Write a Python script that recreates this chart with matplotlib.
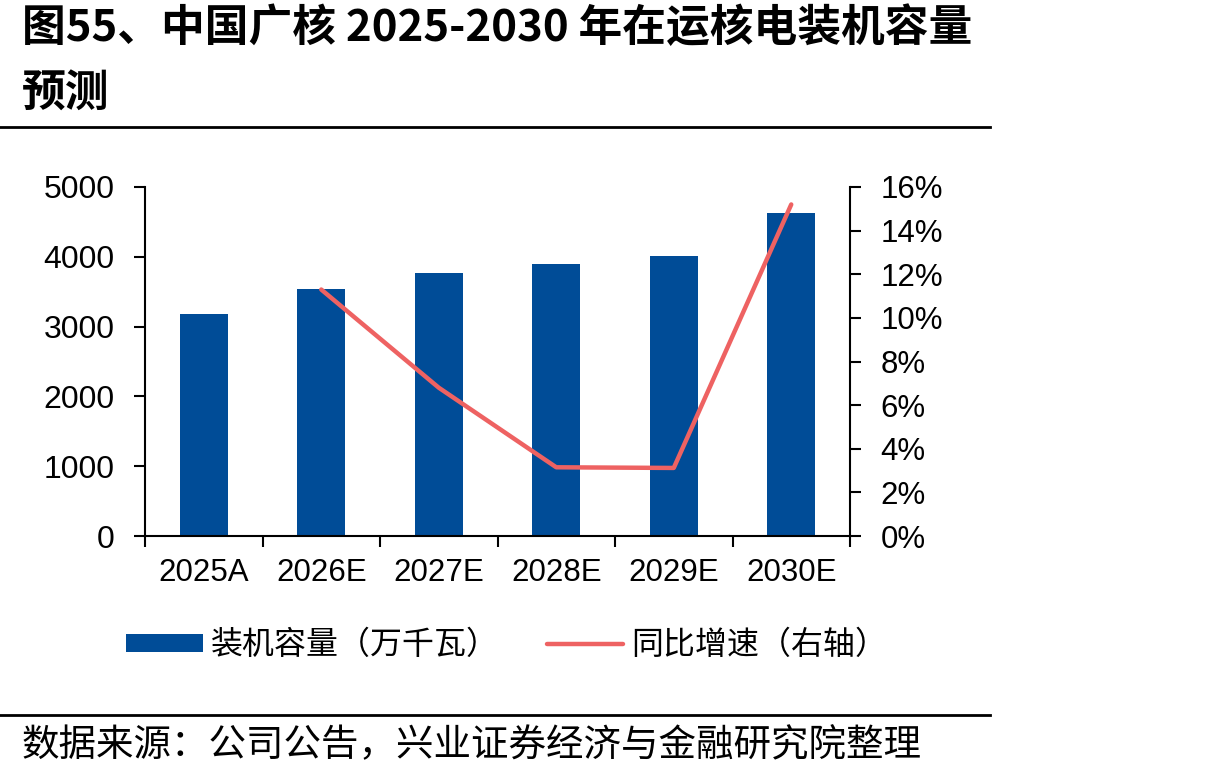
import matplotlib
matplotlib.use("Agg")

import numpy as np
import matplotlib.pyplot as plt
from matplotlib.lines import Line2D
from matplotlib.patches import Patch

plt.rcParams["font.family"] = ["Liberation Sans", "Noto Sans CJK SC", "DejaVu Sans"]

years = ["2025A", "2026E", "2027E", "2028E", "2029E", "2030E"]
capacity = [3178, 3536, 3775, 3894, 4018, 4628]
growth_years = ["2026E", "2027E", "2028E", "2029E", "2030E"]
growth = [11.3, 6.8, 3.15, 3.12, 15.2]

bar_color = "#004C97"
line_color = "#EE6262"
cjk = ["Noto Sans CJK SC", "DejaVu Sans"]

fig = plt.figure(figsize=(12.05, 7.8), dpi=100)
ax = fig.add_axes([145 / 1205, 1 - 536 / 780, 705 / 1205, 349 / 780])
ax2 = ax.twinx()

x = np.arange(len(years))
ax.bar(x, capacity, width=0.41, color=bar_color, zorder=2)

gx = [years.index(y) for y in growth_years]
ax2.plot(gx, growth, color=line_color, linewidth=3.2, solid_capstyle="round",
         solid_joinstyle="round", zorder=3)

ax.set_xlim(-0.5, len(years) - 0.5)
ax.set_ylim(0, 5000)
ax.set_yticks(range(0, 5001, 1000))
ax2.set_ylim(0, 16)
ax2.set_yticks(range(0, 17, 2))
ax2.set_yticklabels([f"{v}%" for v in range(0, 17, 2)])

ax.set_xticks(x)
ax.set_xticklabels(years)
ax.set_xticks(np.arange(-0.5, len(years)), minor=True)
ax.tick_params(axis="x", which="major", length=0, pad=16, labelsize=22.5)
ax.tick_params(axis="x", which="minor", length=8, width=1.5, direction="out")
ax.tick_params(axis="y", length=8, width=1.5, pad=14, labelsize=23)
ax2.tick_params(axis="y", length=8, width=1.5, pad=14, labelsize=22.5)

for a in (ax, ax2):
    a.spines["top"].set_visible(False)
    for s in ("left", "right", "bottom"):
        a.spines[s].set_linewidth(1.5)
ax.spines["right"].set_visible(False)
ax2.spines["left"].set_visible(False)
ax2.spines["bottom"].set_visible(False)

ax.set_zorder(ax2.get_zorder() - 1)
ax.patch.set_visible(True)
ax2.patch.set_visible(False)

# title
fig.text(22 / 1205, 1 - 28 / 780, "图55、中国广核 2025-2030 年在运核电装机容量",
         fontsize=31.5, fontweight="bold", family=cjk, va="center", ha="left")
fig.text(22 / 1205, 1 - 94 / 780, "预测",
         fontsize=31.5, fontweight="bold", family=cjk, va="center", ha="left")
fig.add_artist(Line2D([0, 990 / 1205], [1 - 127 / 780] * 2, color="black", linewidth=2))

# legend
handles = [Patch(facecolor=bar_color, edgecolor="none"),
           Line2D([0], [0], color=line_color, linewidth=3.2, solid_capstyle="round")]
labels = ["装机容量（万千瓦）", "同比增速（右轴）"]
fig.legend(handles, labels, loc="center left", bbox_to_anchor=(126 / 1205, 1 - 645 / 780),
           ncol=2, frameon=False, borderpad=0, borderaxespad=0,
           handlelength=2.4, handleheight=0.5, handletextpad=0.25, columnspacing=1.5,
           prop={"family": cjk, "size": 23})

# source
fig.add_artist(Line2D([0, 990 / 1205], [1 - 715 / 780] * 2, color="black", linewidth=2))
fig.text(22 / 1205, 1 - 746 / 780, "数据来源：公司公告，兴业证券经济与金融研究院整理",
         fontsize=27, family=cjk, va="center", ha="left")

fig.savefig("out.png", dpi=100)
